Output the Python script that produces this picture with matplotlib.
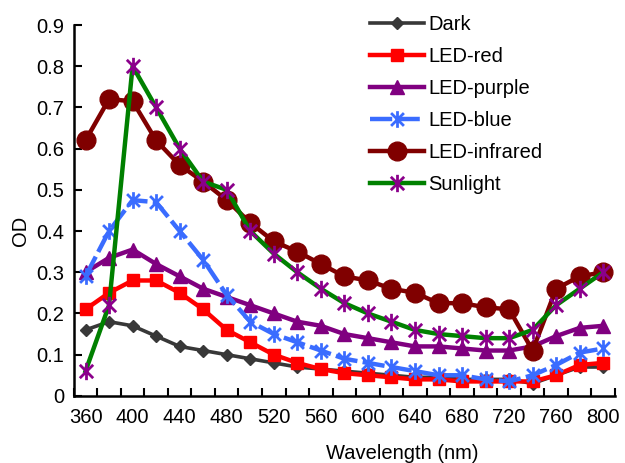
import matplotlib
matplotlib.use("Agg")
import matplotlib.pyplot as plt
from matplotlib.path import Path

# wavelength (nm)
wavelength = [360, 380, 400, 420, 440, 460, 480, 500, 520, 540, 560, 580,
              600, 620, 640, 660, 680, 700, 720, 740, 760, 780, 800]

dark = [0.16, 0.18, 0.17, 0.145, 0.12, 0.11, 0.10, 0.09, 0.08, 0.07, 0.065, 0.06,
        0.055, 0.05, 0.045, 0.045, 0.04, 0.04, 0.04, 0.03, 0.05, 0.07, 0.07]
led_red = [0.21, 0.25, 0.28, 0.28, 0.25, 0.21, 0.16, 0.13, 0.10, 0.08, 0.065, 0.055,
           0.05, 0.045, 0.04, 0.04, 0.035, 0.035, 0.035, 0.035, 0.05, 0.075, 0.08]
led_purple = [0.30, 0.335, 0.355, 0.32, 0.29, 0.26, 0.24, 0.22, 0.20, 0.18, 0.17, 0.15,
              0.14, 0.13, 0.12, 0.12, 0.115, 0.11, 0.11, 0.12, 0.145, 0.165, 0.17]
led_blue = [0.29, 0.40, 0.475, 0.47, 0.40, 0.33, 0.245, 0.18, 0.15, 0.13, 0.11, 0.09,
            0.08, 0.07, 0.06, 0.05, 0.05, 0.04, 0.035, 0.05, 0.075, 0.105, 0.115]
led_infrared = [0.62, 0.72, 0.715, 0.62, 0.56, 0.52, 0.475, 0.42, 0.375, 0.35, 0.32, 0.29,
                0.28, 0.26, 0.25, 0.225, 0.225, 0.215, 0.21, 0.11, 0.26, 0.29, 0.30]
sunlight = [0.06, 0.22, 0.80, 0.70, 0.60, 0.52, 0.50, 0.40, 0.345, 0.30, 0.26, 0.225,
            0.20, 0.18, 0.16, 0.15, 0.145, 0.14, 0.14, 0.16, 0.22, 0.26, 0.30]

nomes = ['Dark', 'LED-red', 'LED-purple', 'LED-blue', 'LED-infrared', 'Sunlight']
x_labels = [360, 400, 440, 480, 520, 560, 600, 640, 680, 720, 760, 800]
y_ticks = [0, 0.1, 0.2, 0.3, 0.4, 0.5, 0.6, 0.7, 0.8, 0.9]
y_labels = ['0', '0.1', '0.2', '0.3', '0.4', '0.5', '0.6', '0.7', '0.8', '0.9']

# asterisco estilo Excel (X + linha vertical)
asterisco = Path([(-1, -1), (1, 1), (-1, 1), (1, -1), (0, -1.3), (0, 1.3)],
                 [Path.MOVETO, Path.LINETO] * 3)

plt.rcParams['font.family'] = ['Liberation Sans', 'DejaVu Sans']
plt.rcParams['font.size'] = 14.5

fig = plt.figure(figsize=(6.25, 4.63), dpi=100)
ax = fig.add_axes([0.118, 0.145, 0.866, 0.801])

series = [dark, led_red, led_purple, led_blue, led_infrared, sunlight]
cores = ['#383838', '#ff0000', '#800080', '#3a6cff', '#800000', '#008000']
marcadores = ['D', 's', '^', asterisco, 'o', asterisco]
tamanhos = [6.5, 9, 10, 12, 13.5, 12.5]
cor_marcador = ['#383838', '#ff0000', '#800080', '#3a6cff', '#800000', '#8b008b']
estilos = ['-', '-', '-', (0, (5, 1.2)), '-', '-']
larguras = [2.6, 3.2, 3.2, 3.2, 3.2, 3.2]

for i in range(6):
    ax.plot(wavelength, series[i], color=cores[i], lw=larguras[i], linestyle=estilos[i],
            marker=marcadores[i], markersize=tamanhos[i], markerfacecolor=cor_marcador[i],
            markeredgecolor=cor_marcador[i], markeredgewidth=2 if i in (3, 5) else 1,
            label=nomes[i], zorder=2 + i)

ax.set_xlim(350, 810)
ax.set_ylim(0, 0.9)

ax.set_xticks(list(range(350, 811, 20)))
ax.set_xticklabels([])
ax.set_xticks(x_labels, minor=True)
ax.set_xticklabels([str(v) for v in x_labels], minor=True)
ax.tick_params(axis='x', which='major', direction='in', length=6, width=1.5)
ax.tick_params(axis='x', which='minor', length=0, pad=9)

ax.set_yticks(y_ticks)
ax.set_yticklabels(y_labels)
ax.tick_params(axis='y', direction='in', length=6, width=1.5, pad=7)

for s in ['top', 'right']:
    ax.spines[s].set_visible(False)
for s in ['left', 'bottom']:
    ax.spines[s].set_linewidth(1.8)

ax.set_ylabel('OD')
ax.yaxis.set_label_coords(-0.081, 0.445)
ax.set_xlabel('Wavelength (nm)')
ax.xaxis.set_label_coords(0.607, -0.13)

fig.legend(loc='upper left', bbox_to_anchor=(0.592, 0.967), bbox_transform=fig.transFigure,
           frameon=False, borderpad=0, borderaxespad=0, handlelength=2.7,
           handletextpad=0.2, labelspacing=0.64, fontsize=14.5)

fig.savefig('out.png', dpi=100)
